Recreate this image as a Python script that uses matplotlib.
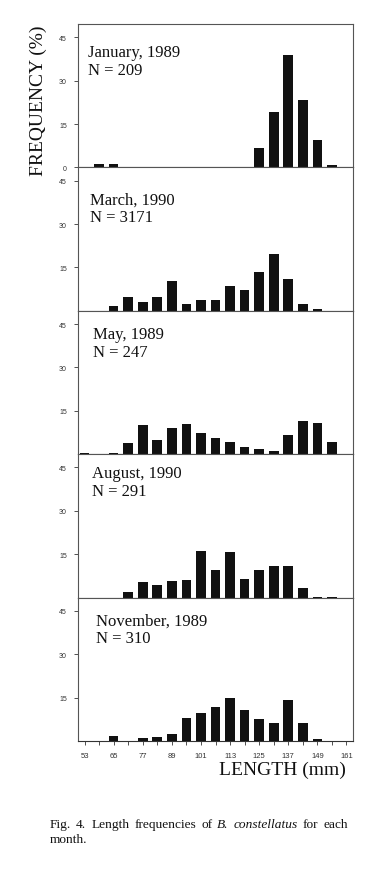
import numpy as np
import matplotlib
matplotlib.use("Agg")
import matplotlib.pyplot as plt

# length classes (mm, bin centres) and frequencies (%)
lengths = [53, 59, 65, 71, 77, 83, 89, 95, 101, 107, 113, 119, 125, 131, 137, 143, 149, 155]
jan_1989 = [0, 1.3, 1.3, 0, 0, 0, 0, 0, 0, 0, 0, 0, 6.7, 19.3, 38.8, 23.3, 9.5, 1.0]
mar_1990 = [0, 0, 1.6, 4.8, 3.1, 4.7, 10.2, 2.3, 3.8, 3.8, 8.6, 7.1, 13.4, 19.5, 10.9, 2.2, 0.5, 0]
may_1989 = [0.35, 0, 0.35, 4.0, 10.0, 5.0, 9.2, 10.4, 7.3, 5.6, 4.2, 2.4, 1.7, 1.2, 6.8, 11.4, 10.7, 4.2]
aug_1990 = [0, 0, 0, 1.9, 5.3, 4.5, 5.7, 6.1, 16.1, 9.4, 15.8, 6.4, 9.7, 10.8, 11.1, 3.2, 0.3, 0.3]
nov_1989 = [0, 0, 1.6, 0, 1.0, 1.5, 2.3, 7.9, 9.8, 11.7, 14.8, 10.8, 7.7, 6.2, 14.3, 6.1, 0.6, 0]

months = ["January, 1989", "March, 1990", "May, 1989", "August, 1990", "November, 1989"]
sample_n = [209, 3171, 247, 291, 310]
series = [jan_1989, mar_1990, may_1989, aug_1990, nov_1989]
xtick_labels = [53, 65, 77, 89, 101, 113, 125, 137, 149, 161]
yticks = [15, 30, 45]

W, H = 382, 878
serif = "Liberation Serif"
sans = "Liberation Sans"

fig = plt.figure(figsize=(W / 100, H / 100), dpi=100)

ax_left, ax_right = 78, 353
top_px, bottom_px = 25, 742
panel_h = (bottom_px - top_px) / len(series)
# label offsets inside each panel (px from left spine, px from top)
label_pos = [(10, 20), (12, 24), (15, 15), (14, 11), (18, 15)]

axes = []
for i, vals in enumerate(series):
    y0 = bottom_px - (len(series) - i) * panel_h
    ax = fig.add_axes([ax_left / W, 1 - (y0 + panel_h) / H,
                       (ax_right - ax_left) / W, panel_h / H])
    ax.bar(lengths, vals, width=4.0, color="#111111", edgecolor="none")
    ax.set_xlim(50.3, 163.7)
    ax.set_ylim(0, 49.6)
    for s in ax.spines.values():
        s.set_color("#555555")
        s.set_linewidth(0.8)
    ax.spines["bottom"].set_color("#333333")
    ax.set_yticks(([0] if i == 0 else []) + yticks)
    ax.tick_params(axis="y", direction="out", length=3, width=0.6,
                   colors="#333333", labelsize=5, pad=5)
    for t in ax.get_yticklabels():
        t.set_family(sans)
    if i < len(series) - 1:
        ax.set_xticks([])
    else:
        ax.set_xticks(xtick_labels)
        ax.set_xticks([v for v in lengths if v not in xtick_labels], minor=True)
        ax.tick_params(axis="x", which="both", direction="out", length=3, width=0.6,
                       colors="#333333", labelsize=5.5, pad=5)
        for t in ax.get_xticklabels():
            t.set_family(sans)
    dx, dy = label_pos[i]
    ax.text(dx / (ax_right - ax_left), 1 - dy / panel_h,
            f"{months[i]}\nN = {sample_n[i]}", transform=ax.transAxes,
            ha="left", va="top", fontsize=12, family=serif,
            linespacing=1.15, color="#111111")
    axes.append(ax)

fig.text(38 / W, 1 - 101 / H, "FREQUENCY (%)", rotation=90, ha="center",
         va="center", fontsize=14, family=serif, color="#111111")
fig.text(346 / W, 1 - 775 / H, "LENGTH (mm)", ha="right", va="baseline",
         fontsize=14, family=serif, color="#111111")

# justified caption
words = [("Fig.", "normal"), ("4.", "normal"), ("Length", "normal"),
         ("frequencies", "normal"), ("of", "normal"), ("B.", "italic"),
         ("constellatus", "italic"), ("for", "normal"), ("each", "normal")]
cap_left, cap_right = 50, 348
cap_size = 9.6
texts = [fig.text(0, 1 - 828 / H, w, fontsize=cap_size, family=serif, style=st,
                  va="baseline", color="#111111") for w, st in words]
fig.canvas.draw()
renderer = fig.canvas.get_renderer()
widths = [t.get_window_extent(renderer).width for t in texts]
gap = (cap_right - cap_left - sum(widths)) / (len(words) - 1)
x = cap_left
for t, w in zip(texts, widths):
    t.set_x(x / W)
    x += w + gap
fig.text(cap_left / W, 1 - 843 / H, "month.", fontsize=cap_size, family=serif,
         va="baseline", color="#111111")

fig.savefig("out.png", dpi=100)
